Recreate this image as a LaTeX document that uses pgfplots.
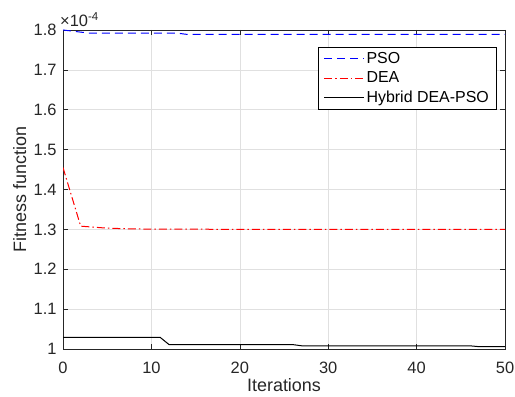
\documentclass[border=0pt]{standalone}
\usepackage{fontspec}
\setmainfont{Liberation Sans}
\usepackage{pgfplots}
\pgfplotsset{compat=1.18}
\definecolor{axgray}{gray}{0.15}
\definecolor{gridgray}{gray}{0.88}
\begin{document}
\begin{tikzpicture}
\begin{axis}[
  scale only axis,
  width=442bp, height=319bp,
  xmin=0, xmax=50, ymin=1e-4, ymax=1.8e-4,
  xtick={0,10,20,30,40,50},
  ytick={1e-4,1.1e-4,1.2e-4,1.3e-4,1.4e-4,1.5e-4,1.6e-4,1.7e-4,1.8e-4},
  scaled y ticks=base 10:4,
  ytick scale label code/.code={×10\textsuperscript{#1}},
  every y tick scale label/.style={at={(rel axis cs:0,1)},anchor=south west,inner sep=0pt,yshift=3bp,font=\fontsize{16.5}{19}\selectfont,text=axgray},
  /pgf/number format/assume math mode=true,
  tick label style={font=\fontsize{16.5}{19}\selectfont, text=axgray},
  xticklabel style={yshift=-10bp},
  yticklabel style={xshift=-3bp},
  label style={font=\fontsize{18}{21}\selectfont, text=axgray},
  xlabel={Iterations},
  ylabel={Fitness function},
  xlabel style={at={(rel axis cs:0.5,0)}, anchor=base, yshift=-43bp},
  ylabel style={at={(rel axis cs:0,0.5)}, anchor=base, yshift=37bp},
  axis line style={axgray, line width=0.6bp},
  tick style={axgray, line width=0.6bp},
  major tick length=5bp,
  tick align=inside,
  xtick pos=both, ytick pos=both,
  grid=major,
  major grid style={gridgray, line width=0.6bp},
  legend cell align=left,
  legend style={at={(1,1)}, anchor=north east, xshift=-9bp, yshift=-17bp,
    font=\fontsize{16}{19}\selectfont,
    inner xsep=5bp, inner ysep=3bp, row sep=3bp},
  legend image post style={xscale=2.35},
]
\addplot[draw=blue, line width=1bp, dash pattern=on 8bp off 5bp] coordinates {
(0,1.800e-4) (3,1.792e-4) (13,1.792e-4) (14,1.789e-4) (50,1.789e-4)};
\addlegendentry{PSO}
\addplot[draw=red, line width=1bp, dash pattern=on 8bp off 3bp on 1.5bp off 3bp] coordinates {
(0,1.455e-4) (2,1.308e-4) (5,1.303e-4) (8,1.301e-4) (20,1.300e-4) (50,1.300e-4)};
\addlegendentry{DEA}
\addplot[draw=black, line width=1bp] coordinates {
(0,1.029e-4) (11,1.029e-4) (12,1.011e-4) (26,1.011e-4) (27,1.008e-4) (46,1.008e-4) (47,1.006e-4) (50,1.006e-4)};
\addlegendentry{Hybrid DEA-PSO}
\end{axis}
\pgfresetboundingbox
\path[use as bounding box] ([xshift=-63bp,yshift=-48bp]current axis.south west) rectangle ([xshift=10bp,yshift=30bp]current axis.north east);
\end{tikzpicture}
\end{document}
